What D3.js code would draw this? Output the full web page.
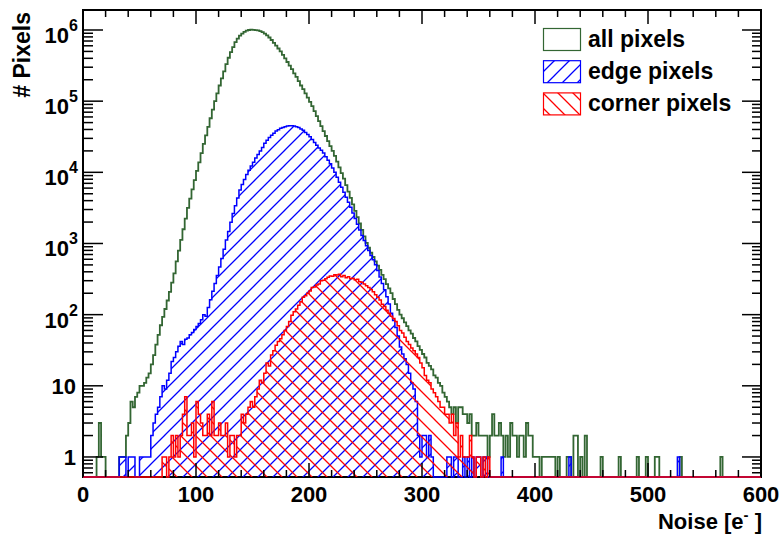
<!DOCTYPE html>
<html>
<head>
<meta charset="utf-8">
<script src="https://cdn.jsdelivr.net/npm/d3@7"></script>
<style>
  body { margin: 0; background: #fff; }
  svg { display: block; }
  text { font-family: "Liberation Sans", Arial, sans-serif; font-weight: bold; fill: #000; }
</style>
</head>
<body>
<div id="chart"></div>
<script>
// histogram bins are 2 e- wide, each series starts at its first stored bin edge
const binWidth = 2;

const allStart = 12;
const allPixels = [
  1,3,1,1,0,0,0,0,0,0,
  1,1,1,2,3,6,5,7,8,10,
  10,11,13,15,20,27,38,52,71,93,
  120,158,209,282,380,562,794,1122,1585,2239,
  3162,4266,5754,7762,10470,13800,18620,25120,33110,43650,
  57540,75860,100000,128800,166000,208900,263000,331100,407400,489800,
  575400,676100,758600,831800,891300,944100,977200,1000000,1012000,1005000,
  998000,988000,966000,933000,891000,841000,785000,724000,661000,603000,
  550000,501000,447000,398000,355000,316000,282000,245000,219000,191000,
  166000,148000,129000,112000,97700,85100,72400,61700,52500,44700,
  38000,32400,27500,23400,20000,17000,14100,11700,9770,8130,
  6610,5370,4370,3550,2880,2340,1910,1550,1260,1020,
  871,741,646,562,490,427,363,316,269,234,
  200,166,141,117,100,89,78,69,60,54,
  47,42,36,32,28,25,21,19,17,14,
  13,11,10,8,7,6,5,4,5,3,
  5,5,4,4,3,4,2,2,3,2,
  2,2,2,1,2,4,2,2,3,2,
  1,2,1,3,2,2,1,2,2,1,
  3,2,2,1,1,1,0,1,1,1,
  1,1,1,0,1,0,0,0,1,1,
  0,2,2,0,1,0,2,0,0,0,
  0,0,0,1,0,0,0,0,0,0,
  0,1,0,0,0,0,0,0,0,1,
  0,0,0,1,0,0,0,1,1,0,
  0,0,0,0,0,0,0,0,1,0,
  0,0,0,0,0,0,0,0,0,0,
  0,0,0,0,0,0,1
];

const edgeStart = 32;
const edgePixels = [
  1,1,1,0,1,1,1,0,0,1,
  1,1,1,1,2,3,4,5,7,10,
  9,12,15,22,25,30,36,42,38,45,
  47,52,56,62,68,75,85,100,95,126,
  162,214,275,355,468,617,832,1122,1479,1995,
  2630,3388,4365,5623,6761,7943,9333,10720,12300,13800,
  15850,17780,19950,22390,25700,28180,30900,33110,35480,38020,
  39810,41690,42660,43650,44670,45200,45200,44670,43650,42660,
  40740,38900,36310,33880,31620,28840,26300,23990,21880,20420,
  18620,16600,14790,13180,11480,10000,8510,7240,6170,5250,
  4470,3800,3240,2690,2240,1860,1550,1290,1100,933,
  794,676,589,501,417,339,275,224,178,141,
  105,83,66,50,35,28,24,20,15,11,
  9,6,2,1,2,2,1,2,1,0,
  0,0,0,0,0,1,1,0,1,1,
  0,0,1,0,1,0,1,0,1,1,
  0,1,1,0,0,0,0,0,0,1,
  0,0,0,0,0,0,0,0,0,0,
  0,0,0,0,0,0,0,0,0,0,
  0,0,0,0,0,0,0,0,0,1,
  0,0,0,0,0,0,0,0,0,0,
  0,0,0,0,0,0,0,0,0,0,
  0,0,0,0,0,0,0,0,0,0,
  0,0,0,0,0,0,0,0,0,0,
  0,0,0,0,0,0,0,1
];

const cornerStart = 70;
const cornerPixels = [
  1,1,0,1,2,1,2,1,2,4,
  7,2,2,3,1,6,4,3,2,2,
  4,2,6,2,2,3,2,2,3,1,
  2,2,1,2,2,4,3,4,5,6,
  5,7,9,12,11,15,21,19,27,31,
  37,42,46,52,60,68,80,98,110,120,
  135,152,175,185,200,215,240,245,262,270,
  300,305,320,335,350,345,365,360,370,340,
  355,330,340,320,325,310,315,290,285,270,
  255,240,225,210,190,175,160,140,130,115,
  105,95,88,80,70,60,55,48,42,38,
  34,31,28,25,21,18,14,12,11,9,
  8,7,6,5,5,4,4,3,4,2,
  3,1,2,1,1,1,2,1,0,1,
  1,0,1,0,1
];

const xTickLabels = [0, 100, 200, 300, 400, 500, 600];
const yDecades = [0, 1, 2, 3, 4, 5, 6];
const legendLabels = ["all pixels", "edge pixels", "corner pixels"];

const colors = { all: "#336633", edge: "#0000ff", corner: "#ff0000" };

const width = 780, height = 536;
const plot = { left: 83, right: 761, top: 10, bottom: 477 };

const x = d3.scaleLinear().domain([0, 600]).range([plot.left, plot.right]);
const y = d3.scaleLog().domain([0.523, 1.91e6]).range([plot.bottom, plot.top]);

const svg = d3.select("#chart").append("svg")
  .attr("width", width)
  .attr("height", height);

const defs = svg.append("defs");
defs.append("clipPath").attr("id", "plotClip")
  .append("rect")
  .attr("x", plot.left).attr("y", plot.top)
  .attr("width", plot.right - plot.left).attr("height", plot.bottom - plot.top + 1);

// hatch patterns: "/" for edge pixels, "\" for corner pixels
function hatch(id, color, up) {
  const s = 15;
  const p = defs.append("pattern").attr("id", id)
    .attr("patternUnits", "userSpaceOnUse")
    .attr("width", s).attr("height", s);
  const d = up
    ? `M0,${s}L${s},0M${-s / 2},${s / 2}L${s / 2},${-s / 2}M${s / 2},${s * 1.5}L${s * 1.5},${s / 2}`
    : `M0,0L${s},${s}M${-s / 2},${s / 2}L${s / 2},${s * 1.5}M${s / 2},${-s / 2}L${s * 1.5},${s / 2}`;
  p.append("path").attr("d", d)
    .attr("stroke", color).attr("stroke-width", 1.3).attr("fill", "none");
}
hatch("hatchEdge", colors.edge, true);
hatch("hatchCorner", colors.corner, false);

// turn a stored series into the full 0..600 range of bins
function toBins(start, values) {
  const bins = [];
  for (let lo = 0; lo < 600; lo += binWidth) {
    const k = (lo - start) / binWidth;
    bins.push({ lo: lo, hi: lo + binWidth, v: (k >= 0 && k < values.length) ? values[k] : 0 });
  }
  return bins;
}

function stepPoints(bins) {
  const pts = [[0, 0]];
  bins.forEach(b => { pts.push([b.lo, b.v]); pts.push([b.hi, b.v]); });
  pts.push([600, 0]);
  return pts;
}

const stepLine = d3.line()
  .x(d => x(d[0]))
  .y(d => d[1] > 0 ? y(d[1]) : plot.bottom);

// frame
svg.append("rect")
  .attr("x", plot.left).attr("y", plot.top)
  .attr("width", plot.right - plot.left).attr("height", plot.bottom - plot.top)
  .attr("fill", "none").attr("stroke", "#000").attr("stroke-width", 2);

const hist = svg.append("g").attr("clip-path", "url(#plotClip)");

const series = [
  { bins: toBins(allStart, allPixels), color: colors.all, fill: null, width: 1.8 },
  { bins: toBins(edgeStart, edgePixels), color: colors.edge, fill: "url(#hatchEdge)", width: 1.5 },
  { bins: toBins(cornerStart, cornerPixels), color: colors.corner, fill: "url(#hatchCorner)", width: 1.5 }
];

series.forEach(s => {
  const pts = stepPoints(s.bins);
  if (s.fill) {
    hist.append("path")
      .attr("d", stepLine(pts) + "Z")
      .attr("fill", s.fill)
      .attr("stroke", "none");
  }
  hist.append("path")
    .attr("d", stepLine(pts))
    .attr("fill", "none")
    .attr("stroke", s.color)
    .attr("stroke-width", s.width);
});

// ticks
const ticks = svg.append("g").attr("stroke", "#000").attr("stroke-width", 1.5);
d3.range(0, 601, 20).forEach(v => {
  const len = v % 100 === 0 ? 14 : 7;
  ticks.append("line").attr("x1", x(v)).attr("x2", x(v)).attr("y1", plot.bottom).attr("y2", plot.bottom - len);
  ticks.append("line").attr("x1", x(v)).attr("x2", x(v)).attr("y1", plot.top).attr("y2", plot.top + len);
});
const yTickVals = [];
for (let d = -1; d <= 6; d++) {
  for (let m = 1; m <= 9; m++) {
    const v = m * Math.pow(10, d);
    if (v >= y.domain()[0] && v <= y.domain()[1]) yTickVals.push({ v: v, major: m === 1 });
  }
}
yTickVals.forEach(t => {
  const len = t.major ? 20 : 10;
  ticks.append("line").attr("x1", plot.left).attr("x2", plot.left + len).attr("y1", y(t.v)).attr("y2", y(t.v));
  ticks.append("line").attr("x1", plot.right).attr("x2", plot.right - len + 1).attr("y1", y(t.v)).attr("y2", y(t.v));
});

// x tick labels
svg.append("g").selectAll("text")
  .data(xTickLabels)
  .enter().append("text")
  .attr("x", d => x(d))
  .attr("y", 502)
  .attr("text-anchor", "middle")
  .style("font-size", "22px")
  .text(d => d);

// y tick labels
const yLab = svg.append("g");
yDecades.forEach(d => {
  const ty = y(Math.pow(10, d));
  if (d < 2) {
    yLab.append("text")
      .attr("x", 76).attr("y", ty + 8)
      .attr("text-anchor", "end")
      .style("font-size", "22px")
      .text(d === 0 ? "1" : "10");
  } else {
    const t = yLab.append("text")
      .attr("x", 78).attr("y", ty + 13)
      .attr("text-anchor", "end")
      .style("font-size", "22px");
    t.append("tspan").text("10");
    t.append("tspan").attr("dy", -12).style("font-size", "16px").text(d);
  }
});

// axis titles
const xt = svg.append("text")
  .attr("x", 762).attr("y", 529)
  .attr("text-anchor", "end")
  .style("font-size", "22px");
xt.append("tspan").text("Noise [e");
xt.append("tspan").attr("dy", -9).style("font-size", "15px").text("-");
xt.append("tspan").attr("dy", 9).text(" ]");

svg.append("text")
  .attr("transform", "translate(30,12) rotate(-90)")
  .attr("text-anchor", "end")
  .style("font-size", "23px")
  .text("# Pixels");

// legend
const legendFills = ["#fff", "url(#hatchEdge)", "url(#hatchCorner)"];
const legendColors = [colors.all, colors.edge, colors.corner];
const legend = svg.append("g");
legendLabels.forEach((label, i) => {
  const cy = 39.5 + i * 32.2;
  legend.append("rect")
    .attr("x", 543.5).attr("y", cy - 11)
    .attr("width", 37).attr("height", 22)
    .attr("fill", legendFills[i])
    .attr("stroke", legendColors[i])
    .attr("stroke-width", 1.2);
  legend.append("text")
    .attr("x", 588).attr("y", cy + 7)
    .style("font-size", "23px")
    .text(label);
});
</script>
</body>
</html>
